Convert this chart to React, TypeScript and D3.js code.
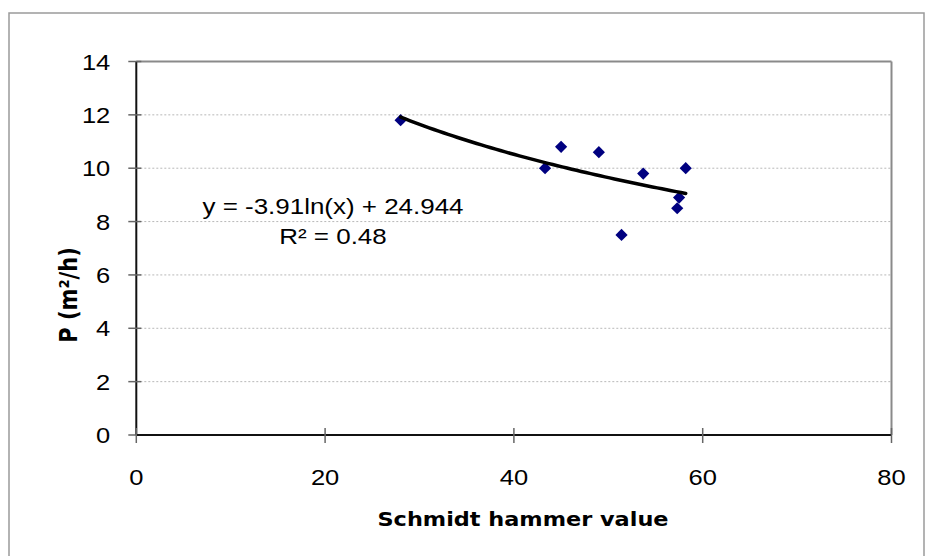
import React from "react";
import * as d3 from "d3";

// Schmidt hammer value vs. production rate P (m²/h)
const hammerValues = [28, 43.3, 45, 49, 53.7, 58.2, 57.5, 57.3, 51.4];
const productionRates = [11.8, 10.0, 10.8, 10.6, 9.8, 10.0, 8.9, 8.5, 7.5];

// Logarithmic trend line coefficients: y = a·ln(x) + b
const trendA = -3.91;
const trendB = 24.944;
const trendR2 = 0.48;

const xTicks = [0, 20, 40, 60, 80];
const yTicks = [0, 2, 4, 6, 8, 10, 12, 14];

const W = 925;
const H = 556;
const plot = { left: 136.3, right: 891.5, top: 61.5, bottom: 435 };
const stretch = 1.16;

export default function App() {
  const x = d3.scaleLinear().domain([0, 80]).range([plot.left, plot.right]);
  const y = d3.scaleLinear().domain([0, 14]).range([plot.bottom, plot.top]);

  const xMin = d3.min(hammerValues) as number;
  const xMax = d3.max(hammerValues) as number;
  const trendXs = d3.range(0, 61).map((i) => xMin + ((xMax - xMin) * i) / 60);
  const trendLine = d3
    .line<number>()
    .x((d) => x(d))
    .y((d) => y(trendA * Math.log(d) + trendB))
    .curve(d3.curveLinear);

  const diamond = d3.symbol().type(d3.symbolDiamond2).size(95)();

  const numFont = "'Liberation Sans', Arial, sans-serif";
  const titleFont = "'Comic Sans MS', 'DejaVu Sans', sans-serif";

  return (
    <svg
      width={W}
      height={H}
      style={{ position: "absolute", left: 0, top: 0, background: "#fff" }}
    >
      {/* chart frame */}
      <rect
        x={9}
        y={13}
        width={915}
        height={560}
        fill="#fff"
        stroke="#9a9a9a"
        strokeWidth={1.5}
      />

      {/* horizontal gridlines */}
      {yTicks
        .filter((t) => t > 0 && t < 14)
        .map((t) => (
          <line
            key={"g" + t}
            x1={plot.left}
            x2={plot.right}
            y1={y(t)}
            y2={y(t)}
            stroke="#b8b8b8"
            strokeWidth={1}
            strokeDasharray="2 2"
          />
        ))}

      {/* plot area border (top and right) */}
      <line x1={plot.left} x2={plot.right} y1={plot.top} y2={plot.top} stroke="#8a8a8a" strokeWidth={2} />
      <line x1={plot.right} x2={plot.right} y1={plot.top} y2={plot.bottom} stroke="#8a8a8a" strokeWidth={2} />

      {/* y axis */}
      <line x1={plot.left} x2={plot.left} y1={plot.top} y2={plot.bottom} stroke="#111" strokeWidth={2} />
      {yTicks.map((t) => (
        <g key={"y" + t}>
          <line x1={plot.left - 8} x2={plot.left + 5} y1={y(t)} y2={y(t)} stroke="#666" strokeWidth={1.5} />
          <text
            transform={`translate(${plot.left - 26},${y(t) + 8}) scale(${stretch},1)`}
            textAnchor="end"
            fontFamily={numFont}
            fontSize={22}
            fill="#000"
          >
            {t}
          </text>
        </g>
      ))}

      {/* x axis */}
      <line x1={plot.left} x2={plot.right} y1={plot.bottom} y2={plot.bottom} stroke="#111" strokeWidth={2} />
      {xTicks.map((t) => (
        <g key={"x" + t}>
          <line x1={x(t)} x2={x(t)} y1={plot.bottom - 7} y2={plot.bottom + 8} stroke="#666" strokeWidth={1.5} />
          <text
            transform={`translate(${x(t)},${plot.bottom + 50}) scale(${stretch},1)`}
            textAnchor="middle"
            fontFamily={numFont}
            fontSize={22}
            fill="#000"
          >
            {t}
          </text>
        </g>
      ))}

      {/* data points */}
      {hammerValues.map((v, i) => (
        <path
          key={"p" + i}
          d={diamond as string}
          transform={`translate(${x(v)},${y(productionRates[i])})`}
          fill="#000080"
        />
      ))}

      {/* logarithmic trend line */}
      <path
        d={trendLine(trendXs) as string}
        fill="none"
        stroke="#000"
        strokeWidth={3.5}
        strokeLinecap="round"
      />

      {/* trend equation */}
      <text
        transform={`translate(333,214) scale(${stretch + 0.02},1)`}
        textAnchor="middle"
        fontFamily={numFont}
        fontSize={22}
        fill="#000"
      >
        {`y = ${trendA}ln(x) + ${trendB}`}
      </text>
      <text
        transform={`translate(333,244) scale(${stretch + 0.02},1)`}
        textAnchor="middle"
        fontFamily={numFont}
        fontSize={22}
        fill="#000"
      >
        {`R² = ${trendR2}`}
      </text>

      {/* axis titles */}
      <text
        transform={`translate(523,526) scale(1.12,1)`}
        textAnchor="middle"
        fontFamily={titleFont}
        fontWeight="bold"
        fontSize={20}
        fill="#000"
      >
        Schmidt hammer value
      </text>
      <text
        transform={`translate(77,295) scale(${stretch},1) rotate(-90)`}
        textAnchor="middle"
        fontFamily={titleFont}
        fontWeight="bold"
        fontSize={21}
        fill="#000"
      >
        P (m²/h)
      </text>
    </svg>
  );
}
